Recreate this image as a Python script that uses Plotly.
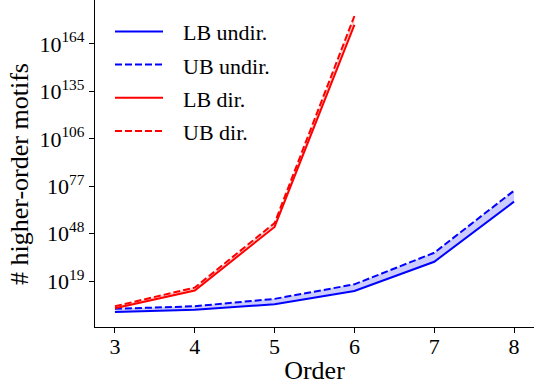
import plotly.graph_objects as go

orders_undir = [3, 4, 5, 6, 7, 8]
lb_undir = [1e0, 2.5e1, 6e4, 8e12, 6e30, 4e67]
ub_undir = [1e2, 4e3, 1.3e8, 1e17, 2e36, 2e74]

orders_dir = [3, 4, 5, 6]
lb_dir = [2.5e2, 1.6e13, 1.3e52, 5e175]
ub_dir = [4e3, 1e15, 3e54, 1.3e181]

ytick_exps = [19, 48, 77, 106, 135, 164]
xticks = [3, 4, 5, 6, 7, 8]

series_names = ["LB undir.", "UB undir.", "LB dir.", "UB dir."]
series_colors = ["blue", "blue", "red", "red"]
series_dash = ["solid", "7px,3px", "solid", "7px,3px"]

font = "Liberation Serif, Times New Roman, DejaVu Serif, serif"
W, H = 534, 385
ML, MB = 95, 56
PW, PH = W - ML, H - MB

fig = go.Figure()
# shaded bands between bounds
fig.add_trace(go.Scatter(x=orders_undir + orders_undir[::-1], y=lb_undir + ub_undir[::-1],
                         fill="toself", fillcolor="rgba(0,0,255,0.2)", mode="none",
                         showlegend=False, hoverinfo="skip"))
fig.add_trace(go.Scatter(x=orders_dir + orders_dir[::-1], y=lb_dir + ub_dir[::-1],
                         fill="toself", fillcolor="rgba(255,0,0,0.2)", mode="none",
                         showlegend=False, hoverinfo="skip"))

for xs, ys, i in [(orders_undir, lb_undir, 0), (orders_undir, ub_undir, 1),
                  (orders_dir, lb_dir, 2), (orders_dir, ub_dir, 3)]:
    fig.add_trace(go.Scatter(x=xs, y=ys, mode="lines", name=series_names[i], showlegend=False,
                             line=dict(color=series_colors[i], width=2, dash=series_dash[i])))

# manual legend (matplotlib style)
leg_rows_px = [31.7, 65.0, 98.3, 131.7]
for i, py in enumerate(leg_rows_px):
    yp = (PH - py) / PH
    fig.add_shape(type="line", xref="paper", yref="paper",
                  x0=(115 - ML) / PW, x1=(163 - ML) / PW, y0=yp, y1=yp,
                  line=dict(color=series_colors[i], width=2, dash=series_dash[i]))
    fig.add_annotation(xref="paper", yref="paper", x=(181 - ML) / PW, y=(PH - py - 1.5) / PH,
                       xanchor="left", yanchor="middle", text=series_names[i], showarrow=False,
                       font=dict(size=22, family=font, color="black"))

# y-axis title
fig.add_annotation(xref="paper", yref="paper", x=(20 - ML) / PW, y=(PH - 175) / PH,
                   xanchor="center", yanchor="middle", text="# higher-order motifs",
                   textangle=-90, showarrow=False, font=dict(size=26, family=font, color="black"))

fig.update_layout(
    width=W, height=H,
    margin=dict(l=ML, r=0, t=0, b=MB),
    plot_bgcolor="white", paper_bgcolor="white",
    font=dict(family=font, size=22, color="black"),
    showlegend=False,
    xaxis=dict(range=[2.75, 8.25], tickvals=xticks, ticks="outside", ticklen=5,
               tickcolor="black", tickwidth=1.2, tickfont=dict(family=font, size=22),
               ticklabelstandoff=-6,
               showline=True, linecolor="black", linewidth=1.2, showgrid=False,
               zeroline=False,
               title=dict(text="Order", font=dict(family=font, size=26), standoff=8)),
    yaxis=dict(type="log", range=[-9.1, 190.9],
               tickvals=[10.0 ** e for e in ytick_exps],
               ticktext=[f"10<sup>{e}</sup>" for e in ytick_exps],
               tickfont=dict(family=font, size=22),
               ticks="outside", ticklen=5, tickcolor="black", tickwidth=1.2,
               showline=True, linecolor="black", linewidth=1.2,
               showgrid=False, zeroline=False),
)
fig.write_html("out.html")
